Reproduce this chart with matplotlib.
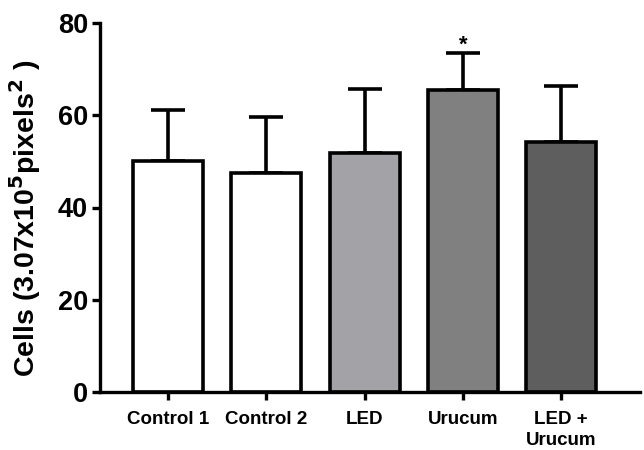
import numpy as np
import matplotlib.pyplot as plt

plt.rcParams['font.family'] = ['Liberation Sans', 'DejaVu Sans']
plt.rcParams['font.weight'] = 'bold'

groups = ["Control 1", "Control 2", "LED", "Urucum", "LED +\nUrucum"]
means = [50.0, 47.4, 51.9, 65.4, 54.1]
sems = [11.1, 12.2, 13.7, 8.0, 12.2]
colors = ["#ffffff", "#ffffff", "#a3a2a6", "#808080", "#5e5e5e"]

fig = plt.figure(figsize=(6.44, 4.5), dpi=100)
ax = fig.add_axes([100 / 644, 1 - 392 / 450, 540 / 644, (392 - 23) / 450])

x = np.arange(len(groups))
ax.bar(x, means, width=0.71, color=colors, edgecolor="black", linewidth=2.6, zorder=2)
ax.errorbar(x, means, yerr=[np.zeros(len(sems)), sems], fmt="none", ecolor="black",
            elinewidth=2.6, capsize=12, capthick=2.6, zorder=1)

# significance mark over Urucum
ax.text(x[3], means[3] + sems[3] - 0.6, "*", ha="center", va="bottom", fontsize=16)

ax.set_xlim(-0.69, 4.8)
ax.set_ylim(0, 80)
ax.set_yticks([0, 20, 40, 60, 80])
ax.set_xticks(x)
ax.set_xticklabels(groups, fontsize=13.5, fontweight="bold", linespacing=1.3)
ax.tick_params(axis="y", labelsize=19.5, width=2.4, length=5.5, pad=3)
ax.tick_params(axis="x", width=2.4, length=6, pad=8)
for lab in ax.get_yticklabels():
    lab.set_fontweight("bold")

ax.spines["top"].set_visible(False)
ax.spines["right"].set_visible(False)
ax.spines["left"].set_linewidth(2.4)
ax.spines["bottom"].set_linewidth(2.4)

ax.set_ylabel("Cells (3.07x10$^\\mathbf{5}$pixels$^\\mathbf{2}$ )", fontsize=20.5, fontweight="bold")
ax.yaxis.set_label_coords(-0.105, 0.47)

fig.savefig("out.png", dpi=100)
